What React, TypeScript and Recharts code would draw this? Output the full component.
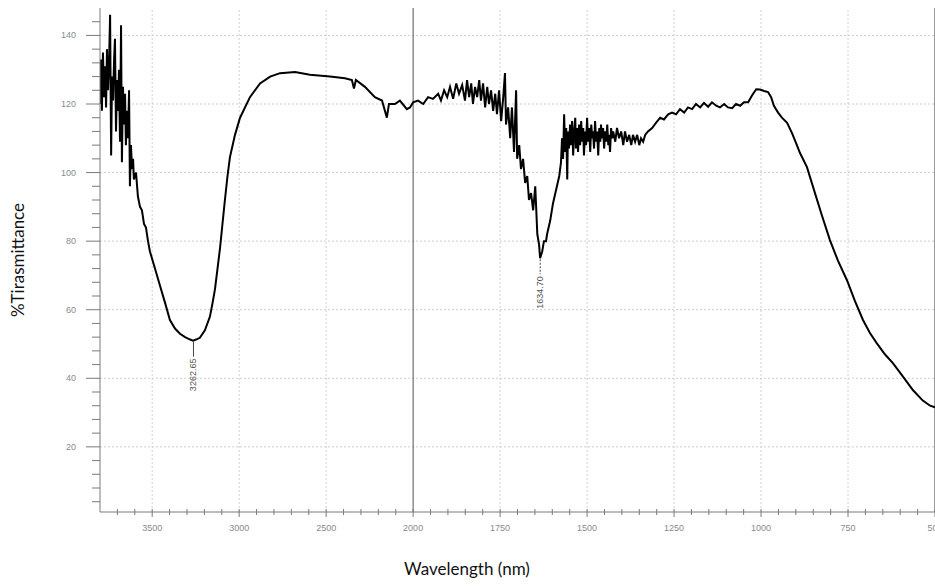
import React from 'react';
import { LineChart, Line, XAxis, YAxis, ReferenceLine, ReferenceDot, Label } from 'recharts';

// Wavenumber (x) and %T (y)
const WAVENUMBER = [
  3800, 3794, 3789, 3783, 3777, 3771, 3765, 3760, 3754, 3748, 3742, 3736, 3731, 3725, 3719, 3714,
  3708, 3702, 3696, 3691, 3685, 3679, 3674, 3668, 3662, 3656, 3651, 3645, 3639, 3633, 3628, 3622,
  3616, 3610, 3605, 3593, 3582, 3570, 3559, 3547, 3536, 3524, 3513, 3484, 3455, 3426, 3398, 3369,
  3340, 3311, 3282, 3265, 3248, 3226, 3197, 3168, 3151, 3139, 3122, 3110, 3096, 3082, 3067, 3053,
  3024, 2995, 2938, 2880, 2822, 2765, 2679, 2593, 2478, 2392, 2352, 2340, 2329, 2277, 2220, 2179,
  2162, 2151, 2139, 2105, 2076, 2036, 2018, 2000,
  1986, 1971, 1957, 1943, 1928, 1920, 1911, 1902, 1894, 1885, 1876, 1868, 1859, 1851, 1845, 1839,
  1833, 1828, 1822, 1816, 1810, 1805, 1799, 1793, 1787, 1782, 1776, 1770, 1764, 1759, 1753, 1747,
  1741, 1736, 1733, 1727, 1721, 1716, 1710, 1704, 1701, 1695, 1690, 1684, 1678, 1672, 1667, 1661,
  1655, 1649, 1643, 1638, 1635, 1629, 1624, 1618, 1615, 1606, 1598, 1589, 1580, 1575, 1572, 1569,
  1566, 1563, 1560, 1557, 1555, 1552, 1549, 1546, 1543, 1540, 1537, 1534, 1532, 1529, 1526, 1523,
  1520, 1517, 1514, 1511, 1509, 1506, 1503, 1500, 1497, 1494, 1491, 1488, 1485, 1483, 1480, 1477,
  1474, 1471, 1468, 1465, 1462, 1460, 1457, 1454, 1451, 1448, 1445, 1442, 1439, 1437, 1434, 1431,
  1428, 1425, 1419, 1414, 1408, 1402, 1396, 1391, 1385, 1379, 1373, 1368, 1362, 1356, 1350, 1345,
  1339, 1333, 1325, 1313, 1302, 1290, 1279, 1267, 1256, 1244, 1233, 1221, 1210, 1198, 1187, 1175,
  1164, 1152, 1141, 1129, 1118, 1106, 1095, 1083, 1072, 1060, 1049, 1037, 1026, 1014, 1003, 991,
  980, 971, 963, 951, 940, 925, 911, 899, 888, 868, 845, 825, 802, 779, 753, 730,
  707, 687, 667, 644, 621, 592, 563, 535, 514, 500,
];

const TRANSMITTANCE = [
  120, 133, 118, 135, 122, 131, 119, 136, 124, 132, 146, 105, 128, 121, 133, 139,
  112, 127, 118, 130, 109, 143, 103, 125, 114, 123, 108, 118, 110, 124, 96, 108,
  101, 104, 98, 100, 93, 90, 89, 85, 84, 80, 77, 72, 67, 62, 57, 54.5,
  53, 52, 51.3, 51, 51.3, 51.8, 54, 58, 62.5, 66, 73, 78, 85, 92, 99, 104.5,
  111, 116, 122, 126, 128, 129, 129.3, 128.5, 128, 127.5, 127, 124.5, 127, 125, 122, 121,
  118, 116, 120, 120, 121, 118.5, 119, 120.5,
  121, 120, 122, 121.5, 123, 121, 124, 122, 125, 121.5, 126, 123, 125.5, 121, 127, 122,
  126, 120, 125, 122, 127, 121, 126, 119, 125, 120, 124, 118, 123, 117, 124, 115,
  122, 129, 114, 119, 110, 119, 106, 124, 104, 108, 101, 104, 97, 99, 92, 94,
  89, 96, 82, 79, 75, 77, 80, 80, 82, 86, 91, 95, 99, 103, 110, 104,
  117, 106, 113, 98, 112, 107, 114, 108, 115, 105, 112, 116, 107, 113, 106, 114,
  108, 115, 109, 113, 105, 112, 108, 116, 109, 113, 106, 114, 110, 112, 107, 115,
  109, 112, 105, 113, 109, 114, 110, 113, 107, 112, 109, 114, 108, 111, 106, 113,
  110, 112, 109, 113, 110, 112, 108, 112, 109, 111, 108, 111, 109, 111, 108, 110,
  109, 111, 112, 113, 114.5, 116, 115.5, 117, 117.5, 117, 118.5, 117.5, 119, 118.5, 120, 119,
  120.3, 119.2, 120.5, 119.5, 119, 120, 119, 118.8, 120, 119.5, 120.5, 120.5, 122.5, 124.3, 124.2, 123.8,
  123.5, 122, 119.5, 117.5, 116, 114.5, 111.5, 108.5, 105.7, 101.6, 94, 87.5, 80.3, 74.3, 68.6, 62.5,
  57, 53.2, 50.2, 47, 44.4, 40.5, 36.5, 33.5, 32, 31.5,
];

const X_MAJOR_TICKS = [3500, 3000, 2500, 2000, 1750, 1500, 1250, 1000, 750, 500];
const Y_MAJOR_TICKS = [20, 40, 60, 80, 100, 120, 140];
const PEAK_WN = [3262.65, 1634.7];
const PEAK_T = [51, 75];
const PEAK_LABELS = ['3262.65', '1634.70'];

const X_START = 3800;
const X_BREAK = 2000;
const X_END = 500;

// broken wavenumber axis: 500 cm-1 per unit above 2000, 250 cm-1 per unit below
function pos(wn: number): number {
  if (wn >= X_BREAK) return (X_START - wn) / 500;
  return (X_START - X_BREAK) / 500 + (X_BREAK - wn) / 250;
}

const chartData = WAVENUMBER.map((w, i) => ({ p: pos(w), t: TRANSMITTANCE[i] }));

const xMinor: number[] = [];
for (let w = 3700; w > X_BREAK; w -= 100) if (!X_MAJOR_TICKS.includes(w)) xMinor.push(w);
for (let w = 1950; w > X_END; w -= 50) if (!X_MAJOR_TICKS.includes(w)) xMinor.push(w);
const xTickPositions = [...X_MAJOR_TICKS, ...xMinor].map(pos).sort((a, b) => a - b);

const yTicks: number[] = [];
for (let v = 4; v <= 144; v += 4) yTicks.push(v);

const AXIS_COLOR = '#7a7a7a';
const TICK_TEXT = '#8a8a8a';
const GRID = '#cfcfcf';

const XTick = (props: any) => {
  const { x, y, payload } = props;
  const idx = X_MAJOR_TICKS.findIndex((t) => Math.abs(pos(t) - payload.value) < 1e-6);
  const major = idx >= 0;
  return (
    <g>
      <line x1={x} x2={x} y1={y - 3} y2={y + (major ? 5 : 3)} stroke={AXIS_COLOR} strokeWidth={1} />
      {major && (
        <text x={x} y={y + 19} textAnchor="middle" fontSize={9} fill={TICK_TEXT} fontFamily="Liberation Sans, Arial, sans-serif">
          {X_MAJOR_TICKS[idx]}
        </text>
      )}
    </g>
  );
};

const YTick = (props: any) => {
  const { x, y, payload } = props;
  const major = Y_MAJOR_TICKS.includes(payload.value);
  return (
    <g>
      <line x1={x - (major ? 14 : 8)} x2={x} y1={y} y2={y} stroke={AXIS_COLOR} strokeWidth={1} />
      {major && (
        <text x={x - 24} y={y + 3} textAnchor="end" fontSize={9} fill={TICK_TEXT} fontFamily="Liberation Sans, Arial, sans-serif">
          {payload.value}
        </text>
      )}
    </g>
  );
};

const PeakMark = (props: any) => {
  const { cx, cy, label, dashed } = props;
  const lineEnd = cy + 16;
  return (
    <g>
      <line x1={cx} x2={cx} y1={cy + 1} y2={lineEnd} stroke="#444" strokeWidth={1} strokeDasharray={dashed ? '2 1.5' : undefined} />
      <text
        x={cx + 3}
        y={lineEnd + 2}
        transform={`rotate(-90 ${cx + 3} ${lineEnd + 2})`}
        textAnchor="end"
        fontSize={9}
        fill="#555"
        fontFamily="Liberation Sans, Arial, sans-serif"
      >
        {label}
      </text>
    </g>
  );
};

export default function App() {
  return (
    <div style={{ position: 'absolute', left: 0, top: 0, width: 935, height: 586, background: '#fff' }}>
      <LineChart width={935} height={586} data={chartData} margin={{ top: 8, right: 0, left: 0, bottom: 0 }}>
        <XAxis
          type="number"
          dataKey="p"
          domain={[0, pos(X_END)]}
          ticks={xTickPositions}
          interval={0}
          tick={<XTick />}
          tickLine={false}
          tickSize={0}
          tickMargin={0}
          axisLine={{ stroke: AXIS_COLOR }}
          height={74}
          allowDataOverflow
        >
          <Label
            content={() => (
              <text x={467} y={575} textAnchor="middle" fontSize={17} fill="#111" fontFamily="Lato, 'Open Sans', sans-serif">
                Wavelength (nm)
              </text>
            )}
          />
        </XAxis>
        <YAxis
          type="number"
          domain={[1, 148]}
          ticks={yTicks}
          interval={0}
          tick={<YTick />}
          tickLine={false}
          tickSize={0}
          tickMargin={0}
          axisLine={{ stroke: AXIS_COLOR }}
          width={100}
          allowDataOverflow
        >
          <Label
            content={() => (
              <text x={24} y={260} transform="rotate(-90 24 260)" textAnchor="middle" fontSize={17} fill="#111" fontFamily="Lato, 'Open Sans', sans-serif">
                %Tirasmittance
              </text>
            )}
          />
        </YAxis>
        {Y_MAJOR_TICKS.map((v) => (
          <ReferenceLine key={`h${v}`} y={v} stroke={GRID} strokeDasharray="2 2" />
        ))}
        {X_MAJOR_TICKS.map((t) => (
          <ReferenceLine
            key={`v${t}`}
            x={pos(t)}
            stroke={t === X_BREAK ? '#555' : t === X_END ? '#999' : GRID}
            strokeDasharray={t === X_BREAK || t === X_END ? undefined : '2 2'}
            strokeWidth={t === X_END ? 2 : 1}
          />
        ))}
        <Line
          type="linear"
          dataKey="t"
          stroke="#000"
          strokeWidth={2}
          dot={false}
          isAnimationActive={false}
        />
        {PEAK_WN.map((w, i) => (
          <ReferenceDot
            key={`pk${i}`}
            x={pos(w)}
            y={PEAK_T[i]}
            r={0}
            shape={(p: any) => <PeakMark {...p} label={PEAK_LABELS[i]} dashed={i === 1} />}
          />
        ))}
      </LineChart>
    </div>
  );
}
